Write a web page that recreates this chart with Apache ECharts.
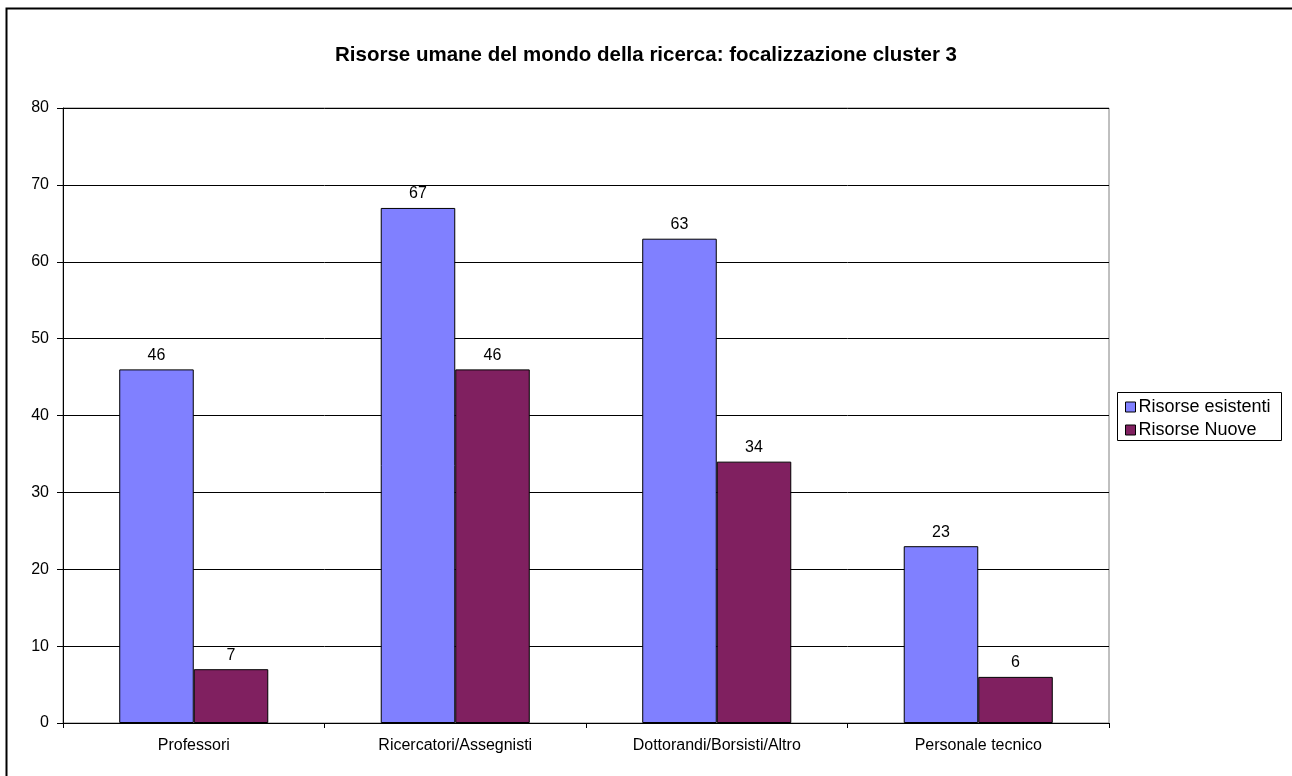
<!DOCTYPE html>
<html>
<head>
<meta charset="utf-8">
<script src="https://cdn.jsdelivr.net/npm/echarts@6/dist/echarts.min.js"></script>
<style>
  html, body { margin: 0; padding: 0; background: #fff; }
  #chart { width: 1292px; height: 776px; }
</style>
</head>
<body>
<div id="chart"></div>
<script>
// Categories and values
const categories = ['Professori', 'Ricercatori/Assegnisti', 'Dottorandi/Borsisti/Altro', 'Personale tecnico'];
const risorseEsistenti = [46, 67, 63, 23];
const risorseNuove = [7, 46, 34, 6];
const seriesNames = ['Risorse esistenti', 'Risorse Nuove'];
const titleText = 'Risorse umane del mondo della ricerca: focalizzazione cluster 3';

const FONT = '"Liberation Sans", Arial, sans-serif';
const chart = echarts.init(document.getElementById('chart'), null, { renderer: 'canvas' });

const labelStyle = { show: true, position: 'top', distance: 6, color: '#000', fontFamily: FONT, fontSize: 16 };

chart.setOption({
  backgroundColor: '#fff',
  animation: false,
  title: {
    text: titleText,
    left: 'center',
    top: 40,
    textStyle: { fontFamily: FONT, fontSize: 20.5, fontWeight: 'bold', color: '#000' }
  },
  graphic: [
    {
      type: 'rect',
      shape: { x: 6.5, y: 8.5, width: 1320, height: 820 },
      style: { fill: 'none', stroke: '#000', lineWidth: 2 },
      silent: true
    },
    {
      type: 'rect',
      shape: { x: 1117.5, y: 392.5, width: 164, height: 48 },
      style: { fill: '#fff', stroke: '#000', lineWidth: 1 },
      z: 0,
      silent: true
    }
  ],
  legend: {
    orient: 'vertical',
    left: 1120,
    top: 393,
    itemWidth: 10,
    itemHeight: 10,
    itemGap: 5,
    icon: 'rect',
    textStyle: { fontFamily: FONT, fontSize: 18, color: '#000', padding: [0, 0, 0, -2] },
    itemStyle: { borderColor: '#000', borderWidth: 1 },
    data: seriesNames
  },
  grid: {
    left: 63, right: 1292 - 1109, top: 108, bottom: 776 - 723,
    show: true, borderColor: '#808080', borderWidth: 1, backgroundColor: 'transparent'
  },
  xAxis: {
    type: 'category',
    data: categories,
    axisLine: { lineStyle: { color: '#000', width: 1 } },
    axisTick: { show: true, alignWithLabel: false, length: 5, inside: false, lineStyle: { color: '#000' } },
    axisLabel: { color: '#000', fontFamily: FONT, fontSize: 16, margin: 15 }
  },
  yAxis: {
    type: 'value',
    min: 0, max: 80, interval: 10,
    axisLine: { show: true, lineStyle: { color: '#000', width: 1 } },
    axisTick: { show: true, length: 6, lineStyle: { color: '#000' } },
    axisLabel: { color: '#000', fontFamily: FONT, fontSize: 16, margin: 14 },
    splitLine: { show: true, lineStyle: { color: '#000', width: 1 } }
  },
  series: [
    {
      name: seriesNames[0],
      type: 'bar',
      data: risorseEsistenti,
      barGap: '0%',
      barCategoryGap: '43%',
      itemStyle: { color: '#8080FF', borderColor: '#000', borderWidth: 1 },
      label: labelStyle
    },
    {
      name: seriesNames[1],
      type: 'bar',
      data: risorseNuove,
      barGap: '0%',
      barCategoryGap: '43%',
      itemStyle: { color: '#802060', borderColor: '#000', borderWidth: 1 },
      label: labelStyle
    }
  ]
});
</script>
</body>
</html>
